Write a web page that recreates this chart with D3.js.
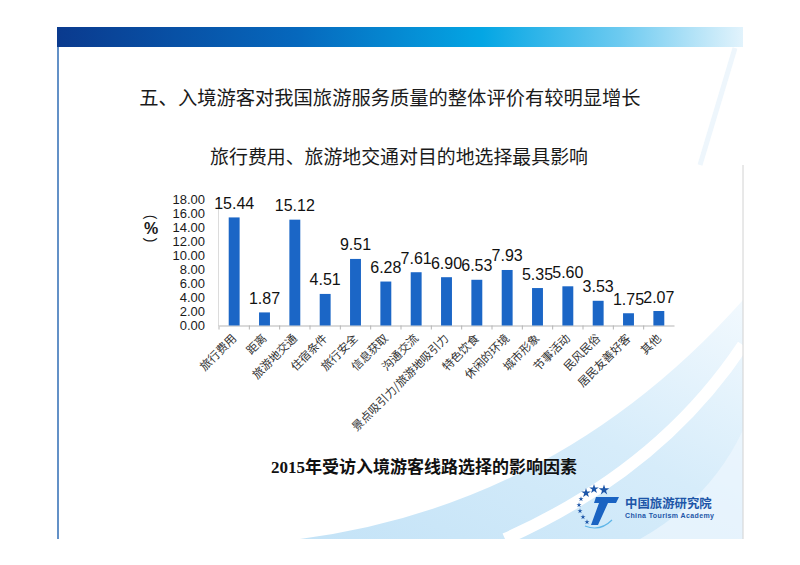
<!DOCTYPE html>
<html lang="zh">

<head>
  <title>2015年受访入境游客线路选择的影响因素</title>
  <meta charset="UTF-8">
  <script src="https://cdn.jsdelivr.net/npm/d3@7"></script>
  <style>
    body { margin: 0; background: #fff; }
  </style>
</head>

<body>
  <div id="box"></div>
  <script>
    // 数据
    const categories = ['旅行费用', '距离', '旅游地交通', '住宿条件', '旅行安全', '信息获取', '沟通交流',
      '景点吸引力/旅游地吸引力', '特色饮食', '休闲的环境', '城市形象', '节事活动', '民风民俗', '居民友善好客', '其他']
    const values = [15.44, 1.87, 15.12, 4.51, 9.51, 6.28, 7.61, 6.90, 6.53, 7.93, 5.35, 5.60, 3.53, 1.75, 2.07]
    const yTicks = [0, 2, 4, 6, 8, 10, 12, 14, 16, 18]

    const pageTitle = '五、入境游客对我国旅游服务质量的整体评价有较明显增长'
    const chartTitle = '旅行费用、旅游地交通对目的地选择最具影响'
    const caption = '2015年受访入境游客线路选择的影响因素'

    const width = 800
    const height = 565
    const cjk = '"Noto Sans CJK SC", "Noto Sans", sans-serif'
    const latin = '"Liberation Sans", Arial, sans-serif'

    const svg = d3.select('#box').append('svg')
      .attr('width', width)
      .attr('height', height)

    const defs = svg.append('defs')
    const bar = defs.append('linearGradient').attr('id', 'hdr')
    bar.append('stop').attr('offset', '0%').attr('stop-color', '#0a3a8e')
    bar.append('stop').attr('offset', '35%').attr('stop-color', '#0668bd')
    bar.append('stop').attr('offset', '62%').attr('stop-color', '#04a6e4')
    bar.append('stop').attr('offset', '82%').attr('stop-color', '#6ccaf0')
    bar.append('stop').attr('offset', '100%').attr('stop-color', '#e2f3fc')

    const swoosh = defs.append('linearGradient').attr('id', 'sw')
      .attr('x1', '0%').attr('y1', '100%').attr('x2', '100%').attr('y2', '0%')
    swoosh.append('stop').attr('offset', '0%').attr('stop-color', '#c4e3f7')
    swoosh.append('stop').attr('offset', '55%').attr('stop-color', '#d6ecfa')
    swoosh.append('stop').attr('offset', '100%').attr('stop-color', '#f2f9fe')

    // 幻灯片背景装饰
    svg.append('path')
      .attr('d', 'M300,539 Q560,505 743,300 L743,539 Z')
      .attr('fill', 'url(#sw)')
    svg.append('path')
      .attr('d', 'M505,539 Q660,470 743,345')
      .attr('fill', 'none')
      .attr('stroke', '#fff')
      .attr('stroke-width', 12)
    svg.append('path')
      .attr('d', 'M640,539 Q710,500 743,430 L743,539 Z')
      .attr('fill', '#eef7fd')
      .attr('opacity', 0.7)
    svg.append('path')
      .attr('d', 'M735,48 L700,165')
      .attr('stroke', '#eef6fc')
      .attr('stroke-width', 5)

    svg.append('rect')
      .attr('x', 57).attr('y', 27).attr('width', 686).attr('height', 20)
      .attr('fill', 'url(#hdr)')
    svg.append('line')
      .attr('x1', 58).attr('x2', 58).attr('y1', 47).attr('y2', 539)
      .attr('stroke', '#2f6db5').attr('stroke-width', 1.5)
    svg.append('line')
      .attr('x1', 743).attr('x2', 743).attr('y1', 165).attr('y2', 539)
      .attr('stroke', '#d2d2d2').attr('stroke-width', 1)

    // 标题
    svg.append('text')
      .attr('x', 390).attr('y', 97)
      .attr('text-anchor', 'middle').attr('dominant-baseline', 'central')
      .attr('font-family', cjk).attr('font-size', 19.3).attr('fill', '#1a1a1a')
      .text(pageTitle)
    svg.append('text')
      .attr('x', 399).attr('y', 155)
      .attr('text-anchor', 'middle').attr('dominant-baseline', 'central')
      .attr('font-family', cjk).attr('font-size', 18.9).attr('fill', '#1a1a1a')
      .text(chartTitle)

    // 比例尺
    const xScale = d3.scaleBand().domain(categories).range([219, 674])
      .paddingInner(0.64).paddingOuter(0.32)
    const yScale = d3.scaleLinear().domain([0, 18]).range([325.5, 199.5])

    // y轴
    const yAxis = d3.axisLeft(yScale).tickValues(yTicks).tickFormat(d3.format('.2f')).tickSize(0).tickPadding(13)
    const gy = svg.append('g')
      .attr('transform', 'translate(218,0)')
      .call(yAxis)
    gy.select('.domain').attr('stroke', '#dcdcdc')
    gy.selectAll('text')
      .attr('font-family', latin).attr('font-size', 13).attr('fill', '#1a1a1a')

    // x轴
    const xAxis = d3.axisBottom(xScale).tickSize(0).tickFormat('')
    const gx = svg.append('g')
      .attr('transform', `translate(0,${yScale(0)})`)
      .call(xAxis)
    gx.select('.domain').attr('stroke', '#b5b5b5')
    gx.selectAll('.sep')
      .data(categories)
      .join('line')
      .attr('class', 'sep')
      .attr('x1', d => xScale(d) - xScale.step() * 0.32)
      .attr('x2', d => xScale(d) - xScale.step() * 0.32)
      .attr('y1', 0).attr('y2', 4)
      .attr('stroke', '#b5b5b5')

    // 柱子
    svg.append('g').selectAll('rect')
      .data(values)
      .join('rect')
      .attr('x', (d, i) => xScale(categories[i]))
      .attr('y', d => yScale(d))
      .attr('width', xScale.bandwidth())
      .attr('height', d => yScale(0) - yScale(d))
      .attr('fill', '#1b66c6')

    // 数据标签
    svg.append('g').selectAll('text')
      .data(values)
      .join('text')
      .attr('x', (d, i) => xScale(categories[i]) + xScale.bandwidth() / 2)
      .attr('y', d => yScale(d) - 8.5)
      .attr('text-anchor', 'middle')
      .attr('font-family', latin).attr('font-size', 16).attr('fill', '#111')
      .text(d => d.toFixed(2))

    // 类别标签
    svg.append('g').selectAll('text')
      .data(categories)
      .join('text')
      .attr('transform', d => `translate(${xScale(d) + xScale.bandwidth() / 2 + 3},339) rotate(-45)`)
      .attr('text-anchor', 'end')
      .attr('font-family', cjk).attr('font-size', 11.5).attr('fill', '#333')
      .text(d => d)

    // y轴单位（%）
    const unit = svg.append('g').attr('transform', 'translate(151,228)')
      .attr('font-family', latin).attr('fill', '#1a1a1a')
    unit.append('text').attr('transform', 'translate(0,-11) rotate(90)')
      .attr('text-anchor', 'middle').attr('dominant-baseline', 'central')
      .attr('font-size', 14).text('(')
    unit.append('text')
      .attr('text-anchor', 'middle').attr('dominant-baseline', 'central')
      .attr('font-size', 16).attr('font-weight', 'bold').text('%')
    unit.append('text').attr('transform', 'translate(0,12) rotate(90)')
      .attr('text-anchor', 'middle').attr('dominant-baseline', 'central')
      .attr('font-size', 14).text(')')

    // 图题
    svg.append('text')
      .attr('x', 424).attr('y', 467)
      .attr('text-anchor', 'middle').attr('dominant-baseline', 'central')
      .attr('font-family', '"Liberation Serif", "Noto Sans CJK SC", serif')
      .attr('font-size', 17).attr('font-weight', 'bold').attr('fill', '#111')
      .text(caption)

    // 标志
    const logo = svg.append('g').attr('fill', '#1d56a8')
    const star = d3.symbol().type(d3.symbolStar)
    const stars = [[586, 493, 28], [594, 489, 28], [604, 490, 34], [581, 499, 8], [579, 505, 8], [580, 511, 8], [583, 517, 8], [587, 522, 8]]
    logo.selectAll('path.star')
      .data(stars)
      .join('path')
      .attr('class', 'star')
      .attr('transform', d => `translate(${d[0]},${d[1]})`)
      .attr('d', d => star.size(d[2])())
    logo.append('path')
      .attr('d', 'M596,497 L619,497 L616,503 L608,503 L598,525 L591,525 L599,503 L594,503 Z')
      .attr('fill', '#1a63c2')
    logo.append('path')
      .attr('d', 'M585,526 Q600,532 612,520')
      .attr('fill', 'none').attr('stroke', '#5fb6e8').attr('stroke-width', 1.2)
    logo.append('text')
      .attr('x', 625).attr('y', 502.5)
      .attr('dominant-baseline', 'central')
      .attr('font-family', cjk).attr('font-size', 12.4).attr('font-weight', 'bold')
      .text('中国旅游研究院')
    logo.append('text')
      .attr('x', 625).attr('y', 515.5)
      .attr('dominant-baseline', 'central')
      .attr('font-family', latin).attr('font-size', 7).attr('font-weight', 'bold')
      .attr('textLength', 89)
      .text('China Tourism Academy')
  </script>
</body>

</html>
